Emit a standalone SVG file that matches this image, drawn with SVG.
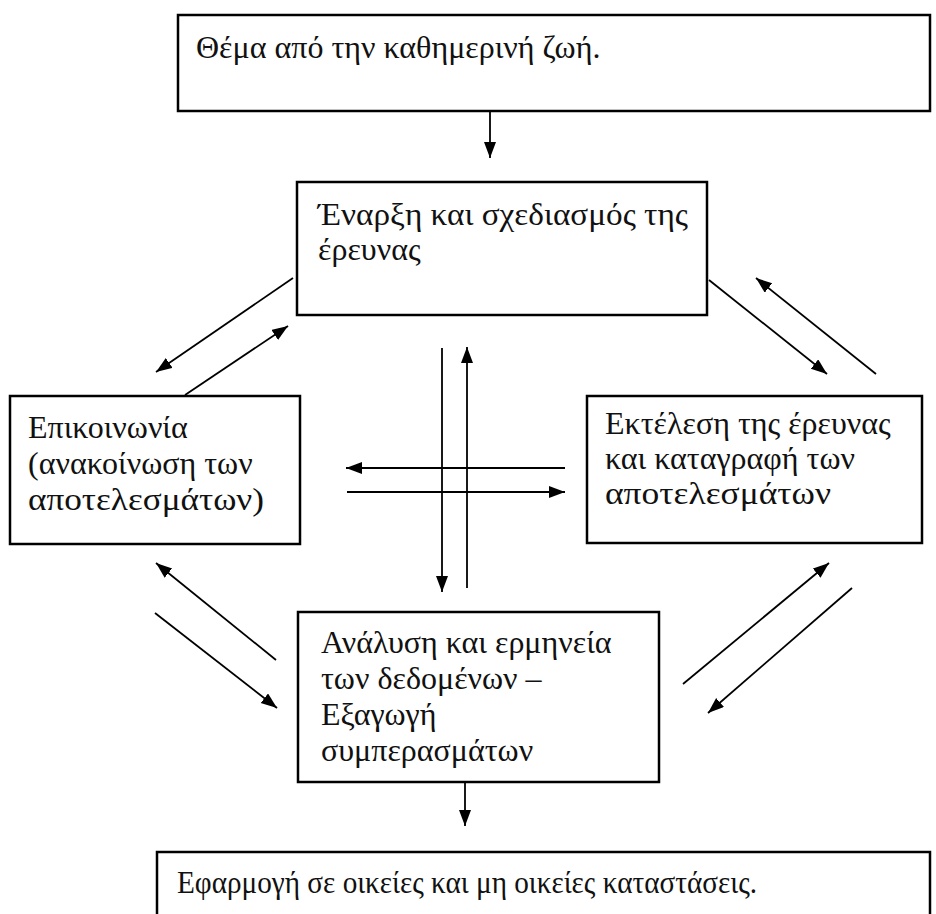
<svg xmlns="http://www.w3.org/2000/svg" width="936" height="914" viewBox="0 0 936 914">
<defs>
<marker id="ah" markerUnits="userSpaceOnUse" markerWidth="18" markerHeight="14" refX="16" refY="6" orient="auto">
<path d="M0,0 L16,6 L0,12 z" fill="#000"/>
</marker>
<style>
.box{fill:#fff;stroke:#000;stroke-width:2.5}
.t{font-family:"Liberation Serif","Times New Roman",serif;font-size:32px;fill:#111}
.c{stroke:#000;stroke-width:1.8;fill:none;marker-end:url(#ah)}
</style>
</defs>
<rect width="936" height="914" fill="#fff"/>
<g id="n1"><rect class="box" x="178" y="15" width="752" height="96"/><text class="t" x="196" y="58">Θέμα από την καθημερινή ζωή.</text></g>
<g id="n2"><rect class="box" x="297" y="182" width="410" height="133"/><text class="t" x="318" y="225" textLength="370" lengthAdjust="spacingAndGlyphs">Έναρξη και σχεδιασμός της</text><text class="t" x="318" y="260">έρευνας</text></g>
<g id="n3"><rect class="box" x="10" y="396" width="290" height="148"/><text class="t" x="28" y="438">Επικοινωνία</text><text class="t" x="28" y="474">(ανακοίνωση των</text><text class="t" x="28" y="510" textLength="236" lengthAdjust="spacingAndGlyphs">αποτελεσμάτων)</text></g>
<g id="n4"><rect class="box" x="587" y="396" width="335" height="147"/><text class="t" x="605" y="434">Εκτέλεση της έρευνας</text><text class="t" x="605" y="469">και καταγραφή των</text><text class="t" x="605" y="504" textLength="226" lengthAdjust="spacingAndGlyphs">αποτελεσμάτων</text></g>
<g id="n5"><rect class="box" x="298" y="612" width="361" height="170"/><text class="t" x="321" y="653">Ανάλυση και ερμηνεία</text><text class="t" x="321" y="689">των δεδομένων –</text><text class="t" x="321" y="725">Εξαγωγή</text><text class="t" x="321" y="761">συμπερασμάτων</text></g>
<g id="n6"><rect class="box" x="157" y="852" width="773" height="80"/><text class="t" x="177" y="893" textLength="580" lengthAdjust="spacingAndGlyphs">Εφαρμογή σε οικείες και μη οικείες καταστάσεις.</text></g>
<g id="connectors">
<line class="c" x1="490" y1="112" x2="490" y2="158"/>
<line class="c" x1="293" y1="278" x2="156" y2="372"/>
<line class="c" x1="185" y1="395" x2="288" y2="326"/>
<line class="c" x1="709" y1="280" x2="827" y2="374"/>
<line class="c" x1="876" y1="374" x2="756" y2="278"/>
<line class="c" x1="442" y1="348" x2="442" y2="592"/>
<line class="c" x1="467" y1="588" x2="467" y2="347"/>
<line class="c" x1="565" y1="468" x2="346" y2="468"/>
<line class="c" x1="347" y1="492" x2="565" y2="492"/>
<line class="c" x1="276" y1="660" x2="156" y2="563"/>
<line class="c" x1="155" y1="613" x2="277" y2="708"/>
<line class="c" x1="683" y1="684" x2="829" y2="563"/>
<line class="c" x1="852" y1="588" x2="708" y2="713"/>
<line class="c" x1="465" y1="782" x2="465" y2="826"/>
</g>
</svg>
